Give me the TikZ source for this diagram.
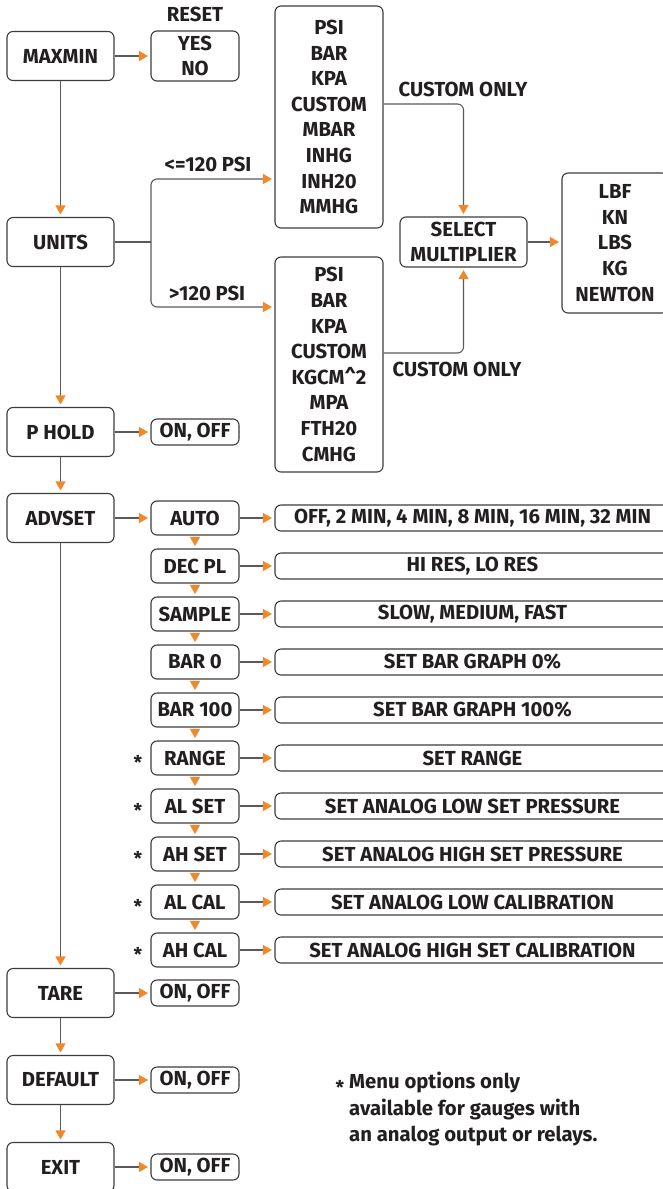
\documentclass[tikz,border=0pt]{standalone}
\usepackage{fontspec}
\setmainfont{Fira Sans}
\usetikzlibrary{arrows.meta}
\definecolor{ln}{HTML}{5A5A5A}
\definecolor{bd}{HTML}{3C3C3C}
\definecolor{tx}{HTML}{231F20}
\definecolor{org}{HTML}{F0882A}
\tikzset{
  box/.style={draw=bd, line width=1.1pt, rounded corners=6pt, inner sep=0pt, align=center, text=tx,
    font=\bfseries\fontsize{20.3}{25.6}\selectfont},
  mainbox/.style={box, minimum width=107pt, minimum height=49pt},
  subbox/.style={box, minimum width=88pt, minimum height=34pt},
  optbox/.style={box, minimum width=88pt, minimum height=26pt},
  longbox/.style={box, minimum width=395pt, minimum height=26pt},
  arr/.style={draw=ln, line width=1.1pt, shorten >=2.5pt, -{Triangle[length=9pt,width=10pt,color=org]}},
  plain/.style={draw=ln, line width=1.1pt},
  lbl/.style={text=tx, inner sep=0pt, font=\bfseries\fontsize{20.3}{25.6}\selectfont},
  star/.style={text=tx, inner sep=0pt, font=\bfseries\fontsize{19}{22}\selectfont},
}
\begin{document}
\begin{tikzpicture}[x=1pt,y=-1pt]
\useasboundingbox (0,0) rectangle (663,1189);
% main column
\node[mainbox] (maxmin) at (60.5,56) {MAXMIN};
\node[mainbox] (units) at (60.5,242) {UNITS};
\node[mainbox] (phold) at (60.5,432) {P HOLD};
\node[mainbox] (advset) at (60.5,518) {ADVSET};
\node[mainbox] (tare) at (60.5,993) {TARE};
\node[mainbox] (default) at (60.5,1080) {DEFAULT};
\node[mainbox] (exit) at (60.5,1167) {EXIT};
% maxmin
\node[box, minimum width=88pt, minimum height=50pt] (yesno) at (195,56) {YES\\NO};
\node[lbl] (reset) at (195,14) {RESET};
% units
\node[box, minimum width=108pt, minimum height=222pt] (ulow) at (329,117)
  {PSI\\BAR\\KPA\\CUSTOM\\MBAR\\INHG\\INH20\\MMHG};
\node[box, minimum width=108pt, minimum height=215pt] (uhigh) at (329,364.5)
  {PSI\\BAR\\KPA\\CUSTOM\\KGCM\^{}2\\MPA\\FTH20\\CMHG};
\node[box, minimum width=127pt, minimum height=50pt] (sel) at (463.5,242) {SELECT\\MULTIPLIER};
\node[box, minimum width=106pt, minimum height=140pt] (force) at (615,243) {LBF\\KN\\LBS\\KG\\NEWTON};
\node[lbl] (lle) at (208,164) {<=120 PSI};
\node[lbl] (lgt) at (207,293) {>120 PSI};
\node[lbl] (cu1) at (463,89) {CUSTOM ONLY};
\node[lbl] (cu2) at (457,369) {CUSTOM ONLY};
\coordinate (jn) at (151,242);
\coordinate (bup) at (151,179);
\coordinate (bdn) at (151,307);
% phold
\node[optbox] (pholdo) at (195,432) {ON, OFF};
% advset sub menu
\node[subbox] (auto) at (195,518) {AUTO};
\node[subbox] (decpl) at (195,566) {DEC PL};
\node[subbox] (sample) at (195,614) {SAMPLE};
\node[subbox] (bar0) at (195,662) {BAR 0};
\node[subbox] (bar100) at (195,710) {BAR 100};
\node[subbox] (range) at (195,758) {RANGE};
\node[subbox] (alset) at (195,806) {AL SET};
\node[subbox] (ahset) at (195,854) {AH SET};
\node[subbox] (alcal) at (195,902) {AL CAL};
\node[subbox] (ahcal) at (195,950) {AH CAL};
\node[longbox] (autoo) at (472.5,518) {OFF, 2 MIN, 4 MIN, 8 MIN, 16 MIN, 32 MIN};
\node[longbox] (decplo) at (472.5,566) {HI RES, LO RES};
\node[longbox] (sampleo) at (472.5,614) {SLOW, MEDIUM, FAST};
\node[longbox] (bar0o) at (472.5,662) {SET BAR GRAPH 0\%};
\node[longbox] (bar100o) at (472.5,710) {SET BAR GRAPH 100\%};
\node[longbox] (rangeo) at (472.5,758) {SET RANGE};
\node[longbox] (alseto) at (472.5,806) {SET ANALOG LOW SET PRESSURE};
\node[longbox] (ahseto) at (472.5,854) {SET ANALOG HIGH SET PRESSURE};
\node[longbox] (alcalo) at (472.5,902) {SET ANALOG LOW CALIBRATION};
\node[longbox] (ahcalo) at (472.5,950) {SET ANALOG HIGH SET CALIBRATION};
\node[star] (s1) at (138,762) {*};
\node[star] (s2) at (138,810) {*};
\node[star] (s3) at (138,858) {*};
\node[star] (s4) at (138,906) {*};
\node[star] (s5) at (138,954) {*};
% tare default exit
\node[optbox] (tareo) at (195,993) {ON, OFF};
\node[optbox] (defaulto) at (195,1080) {ON, OFF};
\node[optbox] (exito) at (195,1167) {ON, OFF};
% note
\node[star] (s6) at (340,1087) {*};
\node[lbl, anchor=west, align=left, font=\bfseries\fontsize{20.3}{26.5}\selectfont] (note) at (349,1109.5)
  {Menu options only\\available for gauges with\\an analog output or relays.};
% connectors main column
\draw[arr] (maxmin) -- (yesno);
\draw[arr] (maxmin) -- (units);
\draw[arr] (units) -- (phold);
\draw[arr] (phold) -- (pholdo);
\draw[arr] (phold) -- (advset);
\draw[arr] (advset) -- (auto);
\draw[arr] (advset) -- (tare);
\draw[arr] (tare) -- (tareo);
\draw[arr] (tare) -- (default);
\draw[arr] (default) -- (defaulto);
\draw[arr] (default) -- (exit);
\draw[arr] (exit) -- (exito);
% units branches
\draw[plain] (units.east) -- (jn);
\draw[arr, rounded corners=6pt] (jn) -- (bup) -- (ulow.west |- bup);
\draw[arr, rounded corners=6pt] (jn) -- (bdn) -- (uhigh.west |- bdn);
\draw[arr, rounded corners=6pt] ([yshift=13pt]ulow.east) -| (sel.north);
\draw[arr, rounded corners=6pt] ([yshift=11.5pt]uhigh.east) -| (sel.south);
\draw[arr] (sel) -- (sel.east -| force.west);
% advset chain
\foreach \a/\b in {auto/decpl,decpl/sample,sample/bar0,bar0/bar100,bar100/range,range/alset,alset/ahset,ahset/alcal,alcal/ahcal}{
  \draw[arr, shorten <=2.5pt] (\a) -- (\b);
}
\foreach \a in {auto,decpl,sample,bar0,bar100,range,alset,ahset,alcal,ahcal}{
  \draw[arr] (\a) -- (\a o);
}
\end{tikzpicture}
\end{document}
